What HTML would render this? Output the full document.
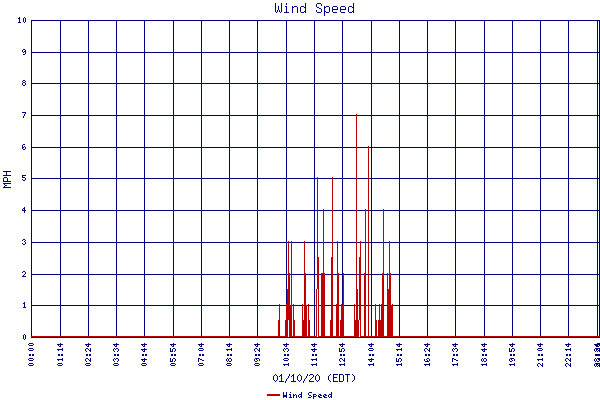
<!DOCTYPE html>
<html><head><meta charset="utf-8"><title>Wind Speed</title>
<style>html,body{margin:0;padding:0;background:#fff;font-family:"Liberation Sans",sans-serif}svg{display:block}</style>
</head><body>
<svg width="600" height="400" viewBox="0 0 600 400" shape-rendering="crispEdges">
<title>Wind Speed</title>
<desc>Wind Speed chart, MPH (0 to 10) versus time of day 00:00 to 23:29 on 01/10/20 (EDT). Legend: Wind Speed.</desc>
<rect width="600" height="400" fill="#ffffff"/>
<path fill="#000080" d="M317 3h4v1h-4zM286 3h1v2h-1zM321 4h1v2h-1zM353 3h1v4h-1zM305 3h1v4h-1zM316 4h1v3h-1zM285 6h2v1h-2zM341 6h4v1h-4zM292 6h1v1h-1zM324 6h1v1h-1zM326 6h3v1h-3zM301 6h3v1h-3zM294 6h3v1h-3zM349 6h3v1h-3zM333 6h4v1h-4zM317 7h2v1h-2zM324 7h2v1h-2zM292 7h2v1h-2zM352 7h2v1h-2zM304 7h2v1h-2zM345 7h1v2h-1zM332 7h1v2h-1zM337 7h1v2h-1zM340 7h1v2h-1zM319 8h2v1h-2zM278 6h1v4h-1zM340 9h6v1h-6zM332 9h6v1h-6zM324 8h1v3h-1zM353 8h1v3h-1zM305 8h1v3h-1zM275 3h1v9h-1zM281 3h1v9h-1zM329 7h1v5h-1zM286 7h1v5h-1zM348 7h1v5h-1zM300 7h1v5h-1zM321 9h1v3h-1zM277 10h1v2h-1zM316 10h1v2h-1zM332 10h1v2h-1zM340 10h1v2h-1zM279 10h1v2h-1zM324 11h2v1h-2zM352 11h2v1h-2zM304 11h2v1h-2zM297 7h1v6h-1zM292 8h1v5h-1zM353 12h1v1h-1zM280 12h1v1h-1zM276 12h1v1h-1zM326 12h3v1h-3zM341 12h4v1h-4zM301 12h3v1h-3zM284 12h5v1h-5zM349 12h3v1h-3zM333 12h4v1h-4zM305 12h1v1h-1zM317 12h4v1h-4zM324 12h1v4h-1zM24 17h1v1h-1zM19 17h1v1h-1zM18 18h2v1h-2zM31 20h569v1h-569zM25 18h1v4h-1zM23 18h1v4h-1zM19 19h1v3h-1zM24 22h1v1h-1zM18 22h3v1h-3zM23 49h2v1h-2zM25 50h1v1h-1zM144 21h1v31h-1zM342 21h1v31h-1zM540 21h1v31h-1zM399 21h1v31h-1zM60 21h1v31h-1zM201 21h1v31h-1zM597 21h1v31h-1zM599 21h1v31h-1zM427 21h1v31h-1zM31 21h1v31h-1zM568 21h1v31h-1zM229 21h1v31h-1zM88 21h1v31h-1zM286 21h1v31h-1zM484 21h1v31h-1zM257 21h1v31h-1zM455 21h1v31h-1zM116 21h1v31h-1zM314 21h1v31h-1zM173 21h1v31h-1zM512 21h1v31h-1zM371 21h1v31h-1zM22 50h1v2h-1zM24 51h2v1h-2zM23 52h1v1h-1zM31 52h569v1h-569zM25 52h1v2h-1zM23 54h2v1h-2zM23 80h2v1h-2zM25 81h1v1h-1zM22 81h1v1h-1zM144 53h1v30h-1zM342 53h1v30h-1zM540 53h1v30h-1zM399 53h1v30h-1zM60 53h1v30h-1zM201 53h1v30h-1zM597 53h1v30h-1zM599 53h1v30h-1zM427 53h1v30h-1zM31 53h1v30h-1zM568 53h1v30h-1zM229 53h1v30h-1zM88 53h1v30h-1zM286 53h1v30h-1zM484 53h1v30h-1zM257 53h1v30h-1zM455 53h1v30h-1zM116 53h1v30h-1zM314 53h1v30h-1zM173 53h1v30h-1zM512 53h1v30h-1zM371 53h1v30h-1zM23 82h2v1h-2zM31 83h569v1h-569zM22 83h1v2h-1zM25 83h1v2h-1zM23 85h2v1h-2zM22 112h4v1h-4zM25 113h1v1h-1zM144 84h1v31h-1zM342 84h1v31h-1zM540 84h1v31h-1zM399 84h1v31h-1zM60 84h1v31h-1zM201 84h1v31h-1zM597 84h1v31h-1zM599 84h1v31h-1zM427 84h1v31h-1zM31 84h1v31h-1zM568 84h1v31h-1zM229 84h1v31h-1zM88 84h1v31h-1zM286 84h1v31h-1zM484 84h1v31h-1zM257 84h1v31h-1zM455 84h1v31h-1zM116 84h1v31h-1zM314 84h1v31h-1zM173 84h1v31h-1zM512 84h1v31h-1zM371 84h1v31h-1zM24 114h1v2h-1zM357 115h243v1h-243zM31 115h325v1h-325zM23 116h1v2h-1zM23 144h2v1h-2zM144 116h1v31h-1zM342 116h1v31h-1zM540 116h1v31h-1zM399 116h1v31h-1zM60 116h1v31h-1zM201 116h1v31h-1zM597 116h1v31h-1zM599 116h1v31h-1zM427 116h1v31h-1zM31 116h1v31h-1zM568 116h1v31h-1zM229 116h1v31h-1zM88 116h1v31h-1zM286 116h1v31h-1zM484 116h1v31h-1zM257 116h1v31h-1zM455 116h1v31h-1zM116 116h1v31h-1zM314 116h1v31h-1zM173 116h1v31h-1zM512 116h1v31h-1zM371 116h1v31h-1zM22 145h1v2h-1zM24 146h1v1h-1zM22 147h2v1h-2zM357 147h11v1h-11zM369 147h231v1h-231zM31 147h325v1h-325zM25 147h1v2h-1zM22 148h1v1h-1zM23 149h2v1h-2zM3 171h8v1h-8zM6 172h1v3h-1zM22 175h4v1h-4zM3 175h8v1h-8zM22 176h1v1h-1zM144 148h1v30h-1zM342 148h1v30h-1zM540 148h1v30h-1zM399 148h1v30h-1zM60 148h1v30h-1zM201 148h1v30h-1zM597 148h1v30h-1zM599 148h1v30h-1zM427 148h1v30h-1zM31 148h1v30h-1zM568 148h1v30h-1zM229 148h1v30h-1zM88 148h1v30h-1zM286 148h1v30h-1zM484 148h1v30h-1zM257 148h1v30h-1zM455 148h1v30h-1zM116 148h1v30h-1zM314 148h1v30h-1zM173 148h1v30h-1zM512 148h1v30h-1zM371 148h1v30h-1zM4 177h3v1h-3zM22 177h3v1h-3zM357 178h11v1h-11zM369 178h231v1h-231zM31 178h286v1h-286zM318 178h14v1h-14zM333 178h23v1h-23zM25 178h1v2h-1zM22 179h1v1h-1zM7 178h1v3h-1zM3 178h1v3h-1zM23 180h2v1h-2zM3 181h8v1h-8zM3 183h8v1h-8zM4 184h1v1h-1zM5 185h2v1h-2zM4 186h1v1h-1zM3 187h8v1h-8zM24 207h1v1h-1zM23 208h2v1h-2zM144 179h1v31h-1zM342 179h1v31h-1zM540 179h1v31h-1zM399 179h1v31h-1zM60 179h1v31h-1zM201 179h1v31h-1zM597 179h1v31h-1zM599 179h1v31h-1zM427 179h1v31h-1zM31 179h1v31h-1zM568 179h1v31h-1zM229 179h1v31h-1zM88 179h1v31h-1zM286 179h1v31h-1zM484 179h1v31h-1zM257 179h1v31h-1zM455 179h1v31h-1zM116 179h1v31h-1zM314 179h1v31h-1zM173 179h1v31h-1zM512 179h1v31h-1zM371 179h1v31h-1zM22 209h1v1h-1zM24 209h1v1h-1zM369 210h14v1h-14zM384 210h216v1h-216zM357 210h8v1h-8zM22 210h4v1h-4zM31 210h286v1h-286zM318 210h5v1h-5zM324 210h8v1h-8zM333 210h23v1h-23zM366 210h2v1h-2zM24 211h1v2h-1zM23 239h2v1h-2zM25 240h1v1h-1zM22 240h1v1h-1zM144 211h1v31h-1zM342 211h1v31h-1zM540 211h1v31h-1zM399 211h1v31h-1zM60 211h1v31h-1zM201 211h1v31h-1zM597 211h1v31h-1zM599 211h1v31h-1zM427 211h1v31h-1zM31 211h1v31h-1zM568 211h1v31h-1zM229 211h1v31h-1zM88 211h1v31h-1zM286 211h1v31h-1zM484 211h1v31h-1zM257 211h1v31h-1zM455 211h1v31h-1zM116 211h1v31h-1zM314 211h1v31h-1zM173 211h1v31h-1zM512 211h1v31h-1zM371 211h1v31h-1zM24 241h1v1h-1zM369 242h14v1h-14zM305 242h12v1h-12zM361 242h4v1h-4zM338 242h18v1h-18zM357 242h3v1h-3zM31 242h257v1h-257zM333 242h4v1h-4zM324 242h8v1h-8zM292 242h12v1h-12zM318 242h5v1h-5zM384 242h5v1h-5zM289 242h2v1h-2zM390 242h210v1h-210zM366 242h2v1h-2zM25 242h1v2h-1zM22 243h1v1h-1zM23 244h2v1h-2zM23 271h2v1h-2zM22 272h1v1h-1zM144 243h1v31h-1zM342 243h1v31h-1zM540 243h1v31h-1zM399 243h1v31h-1zM60 243h1v31h-1zM201 243h1v31h-1zM597 243h1v31h-1zM599 243h1v31h-1zM427 243h1v31h-1zM31 243h1v31h-1zM568 243h1v31h-1zM229 243h1v31h-1zM88 243h1v31h-1zM286 243h1v31h-1zM484 243h1v31h-1zM257 243h1v31h-1zM455 243h1v31h-1zM116 243h1v31h-1zM314 243h1v31h-1zM173 243h1v31h-1zM512 243h1v31h-1zM371 243h1v31h-1zM25 272h1v2h-1zM306 274h11v1h-11zM24 274h1v1h-1zM369 274h13v1h-13zM391 274h209v1h-209zM339 274h4v1h-4zM290 274h1v1h-1zM325 274h6v1h-6zM31 274h257v1h-257zM384 274h3v1h-3zM361 274h3v1h-3zM292 274h12v1h-12zM319 274h2v1h-2zM357 274h2v1h-2zM388 274h1v1h-1zM333 274h4v1h-4zM344 274h12v1h-12zM366 274h2v1h-2zM23 275h1v1h-1zM22 276h4v1h-4zM24 302h1v1h-1zM286 275h1v29h-1zM23 303h2v1h-2zM144 275h1v30h-1zM342 275h1v30h-1zM540 275h1v30h-1zM399 275h1v30h-1zM60 275h1v30h-1zM201 275h1v30h-1zM597 275h1v30h-1zM599 275h1v30h-1zM427 275h1v30h-1zM31 275h1v30h-1zM568 275h1v30h-1zM229 275h1v30h-1zM88 275h1v30h-1zM484 275h1v30h-1zM257 275h1v30h-1zM455 275h1v30h-1zM116 275h1v30h-1zM314 275h1v30h-1zM173 275h1v30h-1zM512 275h1v30h-1zM371 275h1v30h-1zM307 305h1v1h-1zM309 305h7v1h-7zM376 305h3v1h-3zM325 305h6v1h-6zM369 305h6v1h-6zM344 305h10v1h-10zM319 305h2v1h-2zM355 305h1v1h-1zM31 305h248v1h-248zM384 305h3v1h-3zM393 305h207v1h-207zM294 305h8v1h-8zM333 305h3v1h-3zM280 305h6v1h-6zM361 305h3v1h-3zM366 305h2v1h-2zM358 305h1v1h-1zM380 305h1v1h-1zM292 305h1v1h-1zM303 305h1v1h-1zM339 305h2v1h-2zM24 304h1v3h-1zM23 307h3v1h-3zM24 334h1v1h-1zM144 306h1v30h-1zM540 306h1v30h-1zM399 306h1v30h-1zM60 306h1v30h-1zM201 306h1v30h-1zM597 306h1v30h-1zM599 306h1v30h-1zM427 306h1v30h-1zM31 306h1v30h-1zM568 306h1v30h-1zM229 306h1v30h-1zM88 306h1v30h-1zM484 306h1v30h-1zM257 306h1v30h-1zM455 306h1v30h-1zM116 306h1v30h-1zM314 306h1v30h-1zM173 306h1v30h-1zM512 306h1v30h-1zM371 306h1v30h-1zM31 337h569v1h-569zM23 335h1v4h-1zM25 335h1v4h-1zM24 339h1v1h-1zM144 343h1v1h-1zM342 343h1v1h-1zM540 343h1v1h-1zM399 343h1v1h-1zM60 343h1v1h-1zM201 343h1v1h-1zM29 343h4v1h-4zM427 343h1v1h-1zM568 343h1v1h-1zM229 343h1v1h-1zM88 343h1v1h-1zM286 343h1v1h-1zM484 343h1v1h-1zM597 343h3v1h-3zM257 343h1v1h-1zM455 343h1v1h-1zM116 343h1v1h-1zM314 343h1v1h-1zM173 343h1v1h-1zM512 343h1v1h-1zM371 343h1v1h-1zM565 344h6v1h-6zM424 344h6v1h-6zM85 344h6v1h-6zM226 344h6v1h-6zM481 344h6v1h-6zM283 344h6v1h-6zM452 344h6v1h-6zM254 344h6v1h-6zM311 344h6v1h-6zM33 344h1v1h-1zM113 344h6v1h-6zM509 344h6v1h-6zM170 344h6v1h-6zM368 344h6v1h-6zM339 344h6v1h-6zM141 344h6v1h-6zM28 344h1v1h-1zM537 344h6v1h-6zM198 344h6v1h-6zM57 344h6v1h-6zM396 344h6v1h-6zM594 344h6v1h-6zM144 345h1v1h-1zM340 345h1v1h-1zM199 345h1v1h-1zM58 345h1v1h-1zM342 345h1v1h-1zM538 345h1v1h-1zM540 345h1v1h-1zM399 345h1v1h-1zM60 345h1v1h-1zM397 345h1v1h-1zM201 345h1v1h-1zM29 345h4v1h-4zM566 345h1v1h-1zM227 345h1v1h-1zM86 345h1v1h-1zM425 345h1v1h-1zM599 345h1v1h-1zM427 345h1v1h-1zM482 345h1v1h-1zM595 345h3v1h-3zM568 345h1v1h-1zM229 345h1v1h-1zM88 345h1v1h-1zM284 345h1v1h-1zM286 345h1v1h-1zM484 345h1v1h-1zM453 345h1v1h-1zM114 345h1v1h-1zM257 345h1v1h-1zM255 345h1v1h-1zM455 345h1v1h-1zM116 345h1v1h-1zM312 345h1v1h-1zM171 345h1v1h-1zM369 345h1v1h-1zM510 345h1v1h-1zM314 345h1v1h-1zM173 345h1v1h-1zM512 345h1v1h-1zM142 345h1v1h-1zM371 345h1v1h-1zM143 346h2v1h-2zM596 346h3v1h-3zM341 346h2v1h-2zM398 346h2v1h-2zM200 346h2v1h-2zM539 346h2v1h-2zM59 346h2v1h-2zM567 346h2v1h-2zM228 346h2v1h-2zM285 346h2v1h-2zM426 346h2v1h-2zM87 346h2v1h-2zM172 346h2v1h-2zM483 346h2v1h-2zM256 346h2v1h-2zM454 346h2v1h-2zM115 346h2v1h-2zM313 346h2v1h-2zM511 346h2v1h-2zM370 346h2v1h-2zM144 348h1v1h-1zM538 348h4v1h-4zM199 348h4v1h-4zM286 348h2v1h-2zM401 348h1v1h-1zM62 348h1v1h-1zM29 348h4v1h-4zM231 348h1v1h-1zM255 348h2v1h-2zM455 348h2v1h-2zM116 348h2v1h-2zM512 348h2v1h-2zM284 348h1v1h-1zM173 348h2v1h-2zM570 348h1v1h-1zM484 348h1v1h-1zM453 348h1v1h-1zM114 348h1v1h-1zM342 348h2v1h-2zM595 348h5v1h-5zM314 348h1v1h-1zM369 348h4v1h-4zM425 348h2v1h-2zM86 348h2v1h-2zM429 348h1v2h-1zM90 348h1v2h-1zM259 348h1v2h-1zM565 349h6v1h-6zM226 349h6v1h-6zM481 349h6v1h-6zM454 349h1v1h-1zM115 349h1v1h-1zM203 349h1v1h-1zM368 349h1v1h-1zM542 349h1v1h-1zM599 349h1v1h-1zM427 349h1v1h-1zM596 349h2v1h-2zM311 349h6v1h-6zM88 349h1v1h-1zM537 349h1v1h-1zM198 349h1v1h-1zM33 349h1v1h-1zM257 349h1v1h-1zM141 349h6v1h-6zM28 349h1v1h-1zM373 349h1v1h-1zM285 349h1v1h-1zM57 349h6v1h-6zM396 349h6v1h-6zM509 348h1v3h-1zM170 348h1v3h-1zM339 348h1v3h-1zM452 349h1v2h-1zM254 349h1v2h-1zM344 349h1v2h-1zM113 349h1v2h-1zM511 349h1v2h-1zM172 349h1v2h-1zM341 349h1v2h-1zM594 349h1v2h-1zM288 349h1v2h-1zM424 349h1v2h-1zM85 349h1v2h-1zM118 349h1v2h-1zM457 349h1v2h-1zM283 349h1v2h-1zM514 349h1v2h-1zM175 349h1v2h-1zM144 350h1v1h-1zM58 350h1v1h-1zM199 350h4v1h-4zM538 350h4v1h-4zM397 350h1v1h-1zM401 350h1v1h-1zM62 350h1v1h-1zM29 350h4v1h-4zM227 350h1v1h-1zM566 350h1v1h-1zM598 350h2v1h-2zM482 350h1v1h-1zM231 350h1v1h-1zM570 350h1v1h-1zM484 350h1v1h-1zM428 350h2v1h-2zM89 350h2v1h-2zM596 350h1v1h-1zM312 350h1v1h-1zM314 350h1v1h-1zM369 350h4v1h-4zM258 350h2v1h-2zM142 350h1v1h-1zM143 351h2v1h-2zM287 351h1v1h-1zM595 351h1v1h-1zM456 351h1v1h-1zM597 351h1v1h-1zM117 351h1v1h-1zM425 351h1v1h-1zM86 351h1v1h-1zM599 351h1v1h-1zM174 351h1v1h-1zM513 351h1v1h-1zM284 351h1v1h-1zM429 351h1v1h-1zM90 351h1v1h-1zM453 351h1v1h-1zM114 351h1v1h-1zM170 351h3v1h-3zM509 351h3v1h-3zM339 351h3v1h-3zM483 351h2v1h-2zM255 351h1v1h-1zM343 351h1v1h-1zM259 351h1v1h-1zM313 351h2v1h-2zM174 354h2v2h-2zM284 354h2v2h-2zM513 354h2v2h-2zM372 354h2v2h-2zM541 354h2v2h-2zM145 354h2v2h-2zM202 354h2v2h-2zM453 354h2v2h-2zM114 354h2v2h-2zM343 354h2v2h-2zM255 354h2v2h-2zM312 354h2v2h-2zM400 354h2v2h-2zM61 354h2v2h-2zM369 354h2v2h-2zM171 354h2v2h-2zM510 354h2v2h-2zM482 354h2v2h-2zM569 354h2v2h-2zM32 354h2v2h-2zM340 354h2v2h-2zM142 354h2v2h-2zM538 354h2v2h-2zM428 354h2v2h-2zM89 354h2v2h-2zM230 354h2v2h-2zM287 354h2v2h-2zM199 354h2v2h-2zM58 354h2v2h-2zM595 354h5v2h-5zM456 354h2v2h-2zM397 354h2v2h-2zM485 354h2v2h-2zM258 354h2v2h-2zM566 354h2v2h-2zM227 354h2v2h-2zM29 354h2v2h-2zM315 354h2v2h-2zM117 354h2v2h-2zM425 354h2v2h-2zM86 354h2v2h-2zM144 358h1v1h-1zM427 358h2v1h-2zM595 358h1v1h-1zM229 358h2v1h-2zM198 358h2v1h-2zM484 358h2v1h-2zM542 358h1v1h-1zM62 358h1v1h-1zM29 358h4v1h-4zM227 358h1v1h-1zM482 358h1v1h-1zM116 358h2v1h-2zM173 358h2v1h-2zM284 358h4v1h-4zM114 358h1v1h-1zM597 358h3v1h-3zM340 358h2v1h-2zM255 358h4v1h-4zM452 358h2v1h-2zM399 358h2v1h-2zM316 358h1v1h-1zM510 358h4v1h-4zM566 358h2v1h-2zM371 358h1v1h-1zM86 358h2v1h-2zM344 358h1v2h-1zM570 358h1v2h-1zM90 358h1v2h-1zM342 359h1v1h-1zM256 359h1v1h-1zM115 359h1v1h-1zM200 359h2v1h-2zM511 359h1v1h-1zM598 359h2v1h-2zM311 359h6v1h-6zM568 359h1v1h-1zM88 359h1v1h-1zM33 359h1v1h-1zM368 359h6v1h-6zM141 359h6v1h-6zM288 359h1v1h-1zM28 359h1v1h-1zM283 359h1v1h-1zM537 359h6v1h-6zM57 359h6v1h-6zM454 359h2v1h-2zM426 359h1v1h-1zM170 358h1v3h-1zM396 358h1v3h-1zM254 359h1v2h-1zM113 359h1v2h-1zM509 359h1v2h-1zM401 359h1v2h-1zM172 359h1v2h-1zM339 359h1v2h-1zM231 359h1v2h-1zM429 359h1v2h-1zM398 359h1v2h-1zM594 359h1v2h-1zM486 359h1v2h-1zM596 359h1v2h-1zM565 359h1v2h-1zM424 359h1v2h-1zM85 359h1v2h-1zM118 359h1v2h-1zM226 359h1v2h-1zM259 359h1v2h-1zM228 359h1v2h-1zM481 359h1v2h-1zM514 359h1v2h-1zM175 359h1v2h-1zM483 359h1v2h-1zM144 360h1v1h-1zM538 360h1v1h-1zM58 360h1v1h-1zM202 360h2v1h-2zM62 360h1v1h-1zM542 360h1v1h-1zM29 360h4v1h-4zM599 360h1v1h-1zM427 360h1v1h-1zM343 360h2v1h-2zM569 360h2v1h-2zM284 360h4v1h-4zM257 360h1v1h-1zM89 360h2v1h-2zM312 360h1v1h-1zM369 360h1v1h-1zM316 360h1v1h-1zM456 360h2v1h-2zM512 360h1v1h-1zM142 360h1v1h-1zM371 360h1v1h-1zM452 359h1v3h-1zM198 359h1v3h-1zM340 361h1v1h-1zM143 361h2v1h-2zM344 361h1v1h-1zM595 361h1v1h-1zM229 361h2v1h-2zM484 361h2v1h-2zM117 361h1v1h-1zM566 361h1v1h-1zM227 361h1v1h-1zM86 361h1v1h-1zM174 361h1v1h-1zM425 361h4v1h-4zM482 361h1v1h-1zM255 361h2v1h-2zM510 361h2v1h-2zM570 361h1v1h-1zM90 361h1v1h-1zM114 361h1v1h-1zM170 361h3v1h-3zM400 361h1v1h-1zM396 361h3v1h-3zM597 361h2v1h-2zM370 361h2v1h-2zM344 363h1v1h-1zM199 363h4v1h-4zM58 363h4v1h-4zM401 363h1v1h-1zM29 363h4v1h-4zM227 363h4v1h-4zM86 363h4v1h-4zM429 363h1v1h-1zM486 363h1v1h-1zM114 363h4v1h-4zM538 363h2v1h-2zM288 363h1v1h-1zM255 363h4v1h-4zM595 363h5v1h-5zM457 363h1v1h-1zM316 363h1v1h-1zM171 363h4v1h-4zM373 363h1v1h-1zM566 363h2v1h-2zM514 363h1v1h-1zM142 363h4v1h-4zM542 363h1v2h-1zM570 363h1v2h-1zM254 364h1v1h-1zM540 364h1v1h-1zM424 364h6v1h-6zM113 364h1v1h-1zM146 364h1v1h-1zM283 364h6v1h-6zM481 364h6v1h-6zM170 364h1v1h-1zM203 364h1v1h-1zM62 364h1v1h-1zM599 364h1v1h-1zM141 364h1v1h-1zM596 364h2v1h-2zM231 364h1v1h-1zM452 364h6v1h-6zM311 364h6v1h-6zM568 364h1v1h-1zM198 364h1v1h-1zM57 364h1v1h-1zM33 364h1v1h-1zM90 364h1v1h-1zM509 364h6v1h-6zM368 364h6v1h-6zM339 364h6v1h-6zM28 364h1v1h-1zM85 364h1v1h-1zM118 364h1v1h-1zM226 364h1v1h-1zM259 364h1v1h-1zM396 364h6v1h-6zM175 364h1v1h-1zM537 364h1v2h-1zM594 364h1v2h-1zM565 364h1v2h-1zM340 365h1v1h-1zM344 365h1v1h-1zM199 365h4v1h-4zM58 365h4v1h-4zM397 365h1v1h-1zM541 365h2v1h-2zM401 365h1v1h-1zM29 365h4v1h-4zM598 365h2v1h-2zM425 365h1v1h-1zM227 365h4v1h-4zM86 365h4v1h-4zM482 365h1v1h-1zM284 365h1v1h-1zM569 365h2v1h-2zM429 365h1v1h-1zM453 365h1v1h-1zM486 365h1v1h-1zM114 365h4v1h-4zM288 365h1v1h-1zM255 365h4v1h-4zM596 365h1v1h-1zM312 365h1v1h-1zM369 365h1v1h-1zM510 365h1v1h-1zM457 365h1v1h-1zM316 365h1v1h-1zM171 365h4v1h-4zM373 365h1v1h-1zM514 365h1v1h-1zM142 365h4v1h-4zM538 366h1v1h-1zM566 366h1v1h-1zM599 366h1v1h-1zM595 366h1v1h-1zM597 366h1v1h-1zM542 366h1v1h-1zM570 366h1v1h-1zM275 374h1v1h-1zM281 374h1v1h-1zM330 374h1v1h-1zM293 374h1v1h-1zM299 374h1v1h-1zM339 374h4v1h-4zM310 374h3v1h-3zM333 374h5v1h-5zM345 374h5v1h-5zM352 374h1v1h-1zM317 374h1v1h-1zM307 374h1v2h-1zM289 374h1v2h-1zM318 375h1v1h-1zM316 375h1v1h-1zM329 375h1v1h-1zM276 375h1v1h-1zM298 375h1v1h-1zM309 375h1v1h-1zM353 375h1v1h-1zM280 375h2v1h-2zM292 375h2v1h-2zM300 375h1v1h-1zM274 375h1v1h-1zM313 375h1v2h-1zM333 375h1v2h-1zM291 376h1v1h-1zM279 376h1v1h-1zM306 376h1v2h-1zM288 376h1v2h-1zM312 377h1v1h-1zM333 377h4v1h-4zM287 378h1v1h-1zM311 378h1v1h-1zM305 378h1v1h-1zM315 376h1v4h-1zM328 376h1v4h-1zM273 376h1v4h-1zM297 376h1v4h-1zM319 376h1v4h-1zM354 376h1v4h-1zM277 376h1v4h-1zM301 376h1v4h-1zM310 379h1v1h-1zM339 375h1v6h-1zM343 375h1v6h-1zM293 376h1v5h-1zM281 376h1v5h-1zM333 378h1v3h-1zM286 379h1v2h-1zM304 379h1v2h-1zM353 380h1v1h-1zM318 380h1v1h-1zM316 380h1v1h-1zM276 380h1v1h-1zM298 380h1v1h-1zM309 380h1v1h-1zM329 380h1v1h-1zM300 380h1v1h-1zM274 380h1v1h-1zM347 375h1v7h-1zM275 381h1v1h-1zM330 381h1v1h-1zM299 381h1v1h-1zM339 381h4v1h-4zM333 381h5v1h-5zM279 381h5v1h-5zM291 381h5v1h-5zM309 381h5v1h-5zM352 381h1v1h-1zM317 381h1v1h-1zM303 381h1v2h-1zM285 381h1v2h-1zM290 392h1v1h-1zM309 392h3v1h-3zM331 392h1v2h-1zM301 392h1v2h-1zM286 392h1v3h-1zM283 392h1v3h-1zM308 393h1v2h-1zM293 394h1v1h-1zM329 394h3v1h-3zM313 394h3v1h-3zM299 394h3v1h-3zM324 394h2v1h-2zM319 394h2v1h-2zM289 394h2v1h-2zM295 394h1v1h-1zM318 395h1v1h-1zM313 395h1v1h-1zM316 395h1v1h-1zM323 395h1v1h-1zM309 395h2v1h-2zM320 395h2v1h-2zM325 395h2v1h-2zM293 395h2v1h-2zM331 395h1v1h-1zM301 395h1v1h-1zM298 395h1v2h-1zM283 395h4v2h-4zM328 395h1v2h-1zM290 395h1v2h-1zM323 396h2v1h-2zM311 396h1v1h-1zM300 396h2v1h-2zM313 396h3v1h-3zM318 396h2v1h-2zM330 396h2v1h-2zM296 395h1v3h-1zM293 396h1v2h-1zM329 397h1v1h-1zM286 397h1v1h-1zM299 397h1v1h-1zM283 397h1v1h-1zM324 397h3v1h-3zM308 397h3v1h-3zM319 397h3v1h-3zM289 397h3v1h-3zM331 397h1v1h-1zM301 397h1v1h-1zM313 397h1v2h-1z"/>
<path fill="#be0000" d="M332 177h1v80h-1zM317 177h1v80h-1zM360 241h1v16h-1zM365 209h1v64h-1zM323 209h1v64h-1zM383 209h1v64h-1zM337 241h1v32h-1zM304 241h1v32h-1zM288 241h1v32h-1zM389 241h1v32h-1zM356 114h1v175h-1zM317 257h2v32h-2zM387 273h1v16h-1zM288 273h2v16h-2zM389 273h2v16h-2zM337 273h2v31h-2zM382 273h2v31h-2zM287 289h3v15h-3zM291 241h1v64h-1zM304 273h2v32h-2zM343 273h1v32h-1zM387 289h4v16h-4zM392 304h1v1h-1zM286 304h4v1h-4zM341 304h1v1h-1zM359 257h2v63h-2zM331 257h2v63h-2zM356 289h2v31h-2zM375 304h1v16h-1zM302 304h1v16h-1zM379 304h1v16h-1zM293 304h1v16h-1zM308 304h1v16h-1zM354 304h1v16h-1zM381 304h3v16h-3zM279 304h1v16h-1zM304 305h3v15h-3zM341 305h3v15h-3zM286 305h6v15h-6zM368 146h1v190h-1zM364 273h2v63h-2zM321 273h4v63h-4zM318 289h1v47h-1zM316 289h1v47h-1zM336 304h3v32h-3zM387 305h6v31h-6zM378 320h6v16h-6zM308 320h2v16h-2zM285 320h3v16h-3zM354 320h5v16h-5zM289 320h3v16h-3zM375 320h2v16h-2zM278 320h2v16h-2zM360 320h1v16h-1zM302 320h5v16h-5zM330 320h3v16h-3zM293 320h2v16h-2zM340 320h4v16h-4zM360 336h240v1h-240zM289 336h28v1h-28zM318 336h41v1h-41zM31 336h257v1h-257zM267 394h13v2h-13z"/>
</svg>
</body></html>
